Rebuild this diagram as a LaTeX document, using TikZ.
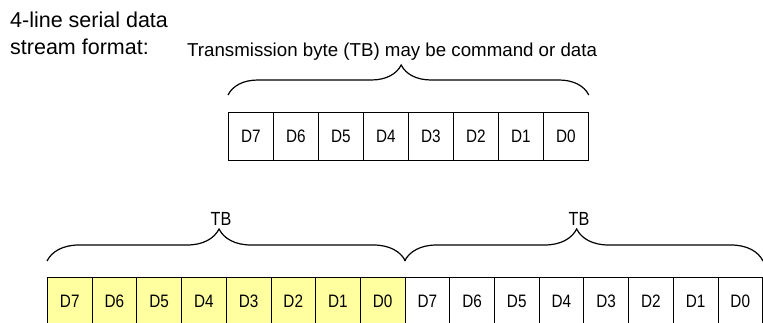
\documentclass[tikz,border=0pt]{standalone}
\usepackage{fontspec}
\setmainfont{Liberation Sans}
\newfontfamily\narrowfont[FakeStretch=0.85]{Liberation Sans}
\usetikzlibrary{decorations.pathreplacing}
\definecolor{hl}{RGB}{255,255,160}
\begin{document}
\begin{tikzpicture}[x=1pt,y=-1pt,
  topcell/.style={draw, line width=0.8pt, minimum width=45pt, minimum height=48pt, inner sep=0pt, anchor=north west, font=\narrowfont\fontsize{18}{18}\selectfont},
  botcell/.style={draw, line width=0.8pt, minimum width=44.7pt, minimum height=48pt, inner sep=0pt, anchor=north west, font=\narrowfont\fontsize{18}{18}\selectfont},
  brc/.style={decorate, decoration={brace, amplitude=30pt, aspect=0.48}, line width=1.2pt},
  lbl/.style={inner sep=0pt, font=\narrowfont\fontsize{19}{19}\selectfont},
  title/.style={inner sep=0pt, anchor=base west, font=\fontsize{21.5}{24}\selectfont}]
\useasboundingbox (0,0) rectangle (763,323);
\node[title] (l1) at (10,28) {4-line serial data};
\node[title] (l2) at (10,55) {stream format:};
\node[inner sep=0pt, anchor=base west, font=\fontsize{18.7}{20}\selectfont] (cap) at (187,57) {Transmission byte (TB) may be command or data};
\foreach \i in {0,...,7}{
  \pgfmathtruncatemacro{\n}{7-\i}
  \node[topcell] (t\i) at (228+45*\i,112) {D\n};
}
\foreach \i in {0,...,7}{
  \pgfmathtruncatemacro{\n}{7-\i}
  \node[botcell, fill=hl] (b\i) at (47+44.7*\i,277) {D\n};
}
\foreach \i in {8,...,15}{
  \pgfmathtruncatemacro{\n}{15-\i}
  \node[botcell] (b\i) at (47+44.7*\i,277) {D\n};
}
\draw[brc] ([yshift=17pt]t0.north west) -- ([yshift=17pt]t7.north east);
\draw[brc, decoration={amplitude=32pt}] ([yshift=16pt]b0.north west) -- ([yshift=16pt]b7.north east);
\draw[brc, decoration={amplitude=32pt}] ([yshift=16pt]b8.north west) -- ([yshift=16pt]b15.north east);
\node[lbl] (tb1) at (221,219) {TB};
\node[lbl] (tb2) at (579,219) {TB};
\end{tikzpicture}
\end{document}
